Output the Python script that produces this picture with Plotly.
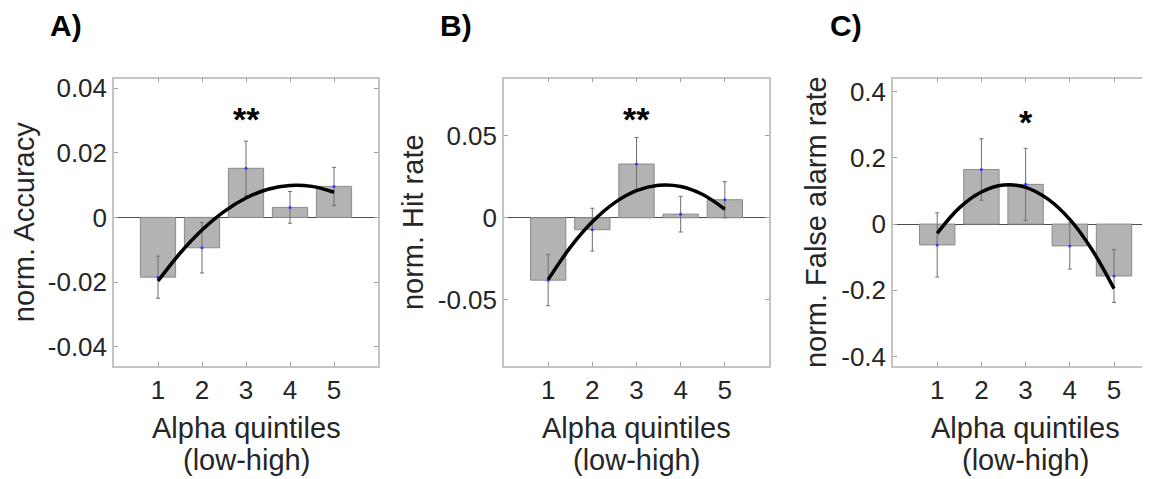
import plotly.graph_objects as go

# ---------------- data ----------------
quintiles = [1, 2, 3, 4, 5]
tick_labels_x = ["1", "2", "3", "4", "5"]

acc_mean = [-0.0185, -0.0094, 0.0152, 0.0031, 0.0096]
acc_sem = [0.0065, 0.0078, 0.0084, 0.0049, 0.0059]

hit_mean = [-0.0381, -0.0073, 0.0328, 0.0022, 0.0110]
hit_sem = [0.0156, 0.0131, 0.0162, 0.0109, 0.0110]

fa_mean = [-0.063, 0.165, 0.120, -0.066, -0.157]
fa_sem = [0.097, 0.093, 0.109, 0.070, 0.080]

# quadratic fit curves
fit_x = [1, 1.5, 2, 2.5, 3, 3.5, 4, 4.5, 5]
acc_fit = [-0.0197, -0.0111, -0.0039, 0.0018, 0.0060, 0.0087, 0.0099, 0.0096, 0.0078]
hit_fit = [-0.0378, -0.0181, -0.0025, 0.0091, 0.0165, 0.0198, 0.0191, 0.0142, 0.0052]
fa_fit = [-0.028, 0.049, 0.097, 0.118, 0.111, 0.076, 0.014, -0.077, -0.195]

acc_ticks = [-0.04, -0.02, 0, 0.02, 0.04]
acc_ticktext = ["-0.04", "-0.02", "0", "0.02", "0.04"]
hit_ticks = [-0.05, 0, 0.05]
hit_ticktext = ["-0.05", "0", "0.05"]
fa_ticks = [-0.4, -0.2, 0, 0.2, 0.4]
fa_ticktext = ["-0.4", "-0.2", "0", "0.2", "0.4"]

panel_labels = ["A)", "B)", "C)"]
y_titles = ["norm. Accuracy", "norm. Hit rate", "norm. False alarm rate"]
x_title_lines = ["Alpha quintiles", "(low-high)"]
sig_labels = ["**", "**", "*"]
sig_y = [0.0305, 0.060, 0.310]

# ---------------- style ----------------
OFF = 8  # page offset of the plot div (body margin)
W, H = 1150 - OFF, 479 - OFF
FONT = "Liberation Sans, Arial, Helvetica, sans-serif"
TXT = "#262626"
BORDER = "#c4c4c4"
BAR_FILL = "#b3b3b3"
BAR_LINE = "#8a8a8a"


def px_x(p):
    return (p - OFF) / W


def px_y(p):
    return 1 - (p - OFF) / H


x_px = [(114, 378), (504, 769), (893, 1150)]
x_domains = [(px_x(a), min(1.0, px_x(b))) for a, b in x_px]
x_ranges = [[0, 6], [0, 6], [0, (1150 - 893) / 44.2]]
y_dom = (px_y(366), px_y(78.5))
y_ranges = [[-0.046, 0.043], [-0.0905, 0.085], [-0.429, 0.44]]

means = [acc_mean, hit_mean, fa_mean]
sems = [acc_sem, hit_sem, fa_sem]
fits = [acc_fit, hit_fit, fa_fit]
yticks = [(acc_ticks, acc_ticktext), (hit_ticks, hit_ticktext), (fa_ticks, fa_ticktext)]

fig = go.Figure()

for i in range(3):
    xa = "x" if i == 0 else f"x{i+1}"
    ya = "y" if i == 0 else f"y{i+1}"
    fig.add_trace(go.Bar(
        x=quintiles, y=means[i], width=0.8,
        marker=dict(color=BAR_FILL, line=dict(color=BAR_LINE, width=1)),
        error_y=dict(type="data", array=sems[i], visible=True,
                     color="#6e6e6e", thickness=1, width=2),
        xaxis=xa, yaxis=ya, showlegend=False, hoverinfo="skip",
    ))
    fig.add_trace(go.Scatter(
        x=quintiles, y=means[i], mode="markers",
        marker=dict(color="#2b3bff", size=3),
        xaxis=xa, yaxis=ya, showlegend=False, hoverinfo="skip",
    ))
    fig.add_trace(go.Scatter(
        x=fit_x, y=fits[i], mode="lines",
        line=dict(color="black", width=3.5, shape="spline", smoothing=1.0),
        xaxis=xa, yaxis=ya, showlegend=False, hoverinfo="skip",
    ))

    axis_common = dict(
        showline=True, linecolor=BORDER, linewidth=1.5,
        ticks="inside", ticklen=4, tickcolor="#a0a0a0", tickwidth=1,
        showgrid=False, automargin=False,
        tickfont=dict(family=FONT, size=26, color=TXT),
    )
    xkey = "xaxis" if i == 0 else f"xaxis{i+1}"
    ykey = "yaxis" if i == 0 else f"yaxis{i+1}"
    fig.layout[xkey] = dict(
        axis_common, domain=list(x_domains[i]), range=x_ranges[i],
        anchor=ya, mirror="ticks", zeroline=False,
        tickvals=quintiles, ticktext=tick_labels_x,
    )
    fig.layout[ykey] = dict(
        axis_common, domain=list(y_dom), range=y_ranges[i],
        anchor=xa, mirror=("ticks" if i < 2 else False),
        zeroline=True, zerolinecolor="#4d4d4d", zerolinewidth=1,
        tickvals=yticks[i][0], ticktext=yticks[i][1],
        title=dict(text=y_titles[i], font=dict(family=FONT, size=29, color=TXT), standoff=6),
    )
    fig.add_annotation(
        x=3, y=sig_y[i], xref=xa, yref=ya, text=f"<b>{sig_labels[i]}</b>",
        showarrow=False, font=dict(family=FONT, size=34, color="black"),
        xanchor="center", yanchor="middle",
    )
    # x-axis title (two lines, centred on tick 3)
    for line_txt, line_y in zip(x_title_lines, [428, 460]):
        fig.add_annotation(
            x=3, y=px_y(line_y), xref=xa, yref="paper", text=line_txt,
            showarrow=False, font=dict(family=FONT, size=29, color=TXT),
            xanchor="center", yanchor="middle",
        )

label_x = [66, 456, 846]
for lbl, lx in zip(panel_labels, label_x):
    fig.add_annotation(
        x=px_x(lx), y=px_y(26), xref="paper", yref="paper",
        text=f"<b>{lbl}</b>", showarrow=False,
        font=dict(family=FONT, size=30, color="black"),
        xanchor="center", yanchor="middle",
    )

fig.update_layout(
    width=W, height=H,
    margin=dict(l=0, r=0, t=0, b=0),
    paper_bgcolor="white", plot_bgcolor="white",
    barmode="overlay",
)

fig.write_html("out.html")
